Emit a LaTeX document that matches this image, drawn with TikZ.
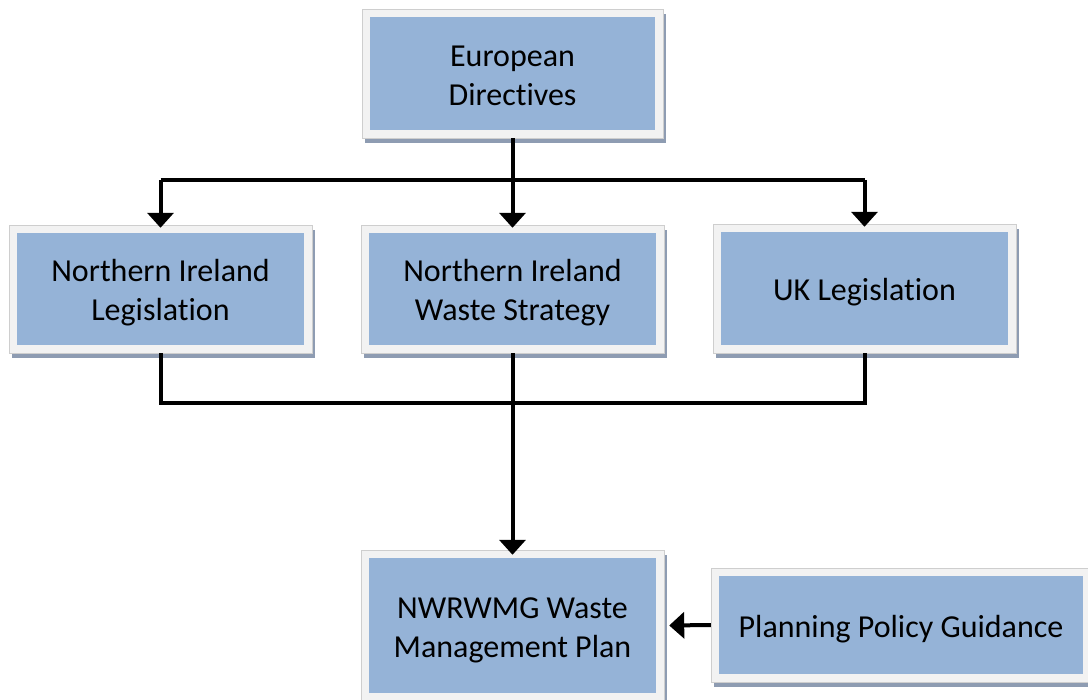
\documentclass[tikz,border=0pt]{standalone}
\usepackage{fontspec}
\setmainfont{Carlito}[Ligatures=NoCommon]
\usetikzlibrary{arrows.meta,shadows}
\definecolor{boxblue}{HTML}{95B3D7}
\definecolor{frame}{HTML}{F2F2F2}
\definecolor{shadowc}{HTML}{8E9CB2}
\newcommand{\boxtext}[1]{\raisebox{-4.5pt}[\height][\depth]{\begin{tabular}{@{}c@{}}#1\end{tabular}}}
\tikzset{
  flowbox/.style={rectangle, inner sep=0pt, fill=frame, draw=frame!85!black, line width=0.4pt,
    drop shadow={shadow xshift=2.5pt, shadow yshift=-5pt, fill=shadowc, opacity=1},
    path picture={\fill[boxblue] ([shift={(8pt,-8pt)}]path picture bounding box.north west) rectangle ([shift={(-8pt,8pt)}]path picture bounding box.south east);},
    font=\fontsize{32}{39}\selectfont, text=black},
  conn/.style={line width=4pt},
  arr/.style={line width=4pt, -{Triangle[width=26pt,length=15pt]}}
}
\begin{document}
\begin{tikzpicture}[x=1pt,y=-1pt]
\useasboundingbox (0,0) rectangle (1088,700);
\clip (0,0) rectangle (1088,700);
\fill[white] (0,0) rectangle (1088,700);
\node[flowbox, minimum width=301pt, minimum height=129pt] (eu) at (512.5,73.5) {\boxtext{European\\Directives}};
\node[flowbox, minimum width=303pt, minimum height=128pt] (nil) at (160.5,289) {\boxtext{Northern Ireland\\Legislation}};
\node[flowbox, minimum width=303pt, minimum height=128pt] (niws) at (512.5,289) {\boxtext{Northern Ireland\\Waste Strategy}};
\node[flowbox, minimum width=303pt, minimum height=129pt] (uk) at (864.5,288.5) {\boxtext{UK Legislation}};
\node[flowbox, minimum width=303pt, minimum height=151pt] (nw) at (512.5,625.5) {\boxtext{NWRWMG Waste\\Management Plan}};
\node[flowbox, minimum width=380pt, minimum height=114pt] (ppg) at (901,625) {\boxtext{Planning Policy Guidance}};
\coordinate (j) at (512.5,180);
\coordinate (k) at (512.5,403);
\draw[conn] (eu.south) -- (j);
\draw[conn] (j -| nil.north) -- (j -| uk.north);
\draw[arr] (j -| nil.north) -- ([yshift=-3pt]nil.north);
\draw[arr] (j) -- ([yshift=-3pt]niws.north);
\draw[arr] (j -| uk.north) -- ([yshift=-3pt]uk.north);
\draw[conn] (nil.south) -- (k -| nil.south) -- (k -| uk.south) -- (uk.south);
\draw[arr] (niws.south) -- ([yshift=-5pt]nw.north);
\draw[arr] (ppg.west) -- ([xshift=5pt]nw.east);
\end{tikzpicture}
\end{document}
